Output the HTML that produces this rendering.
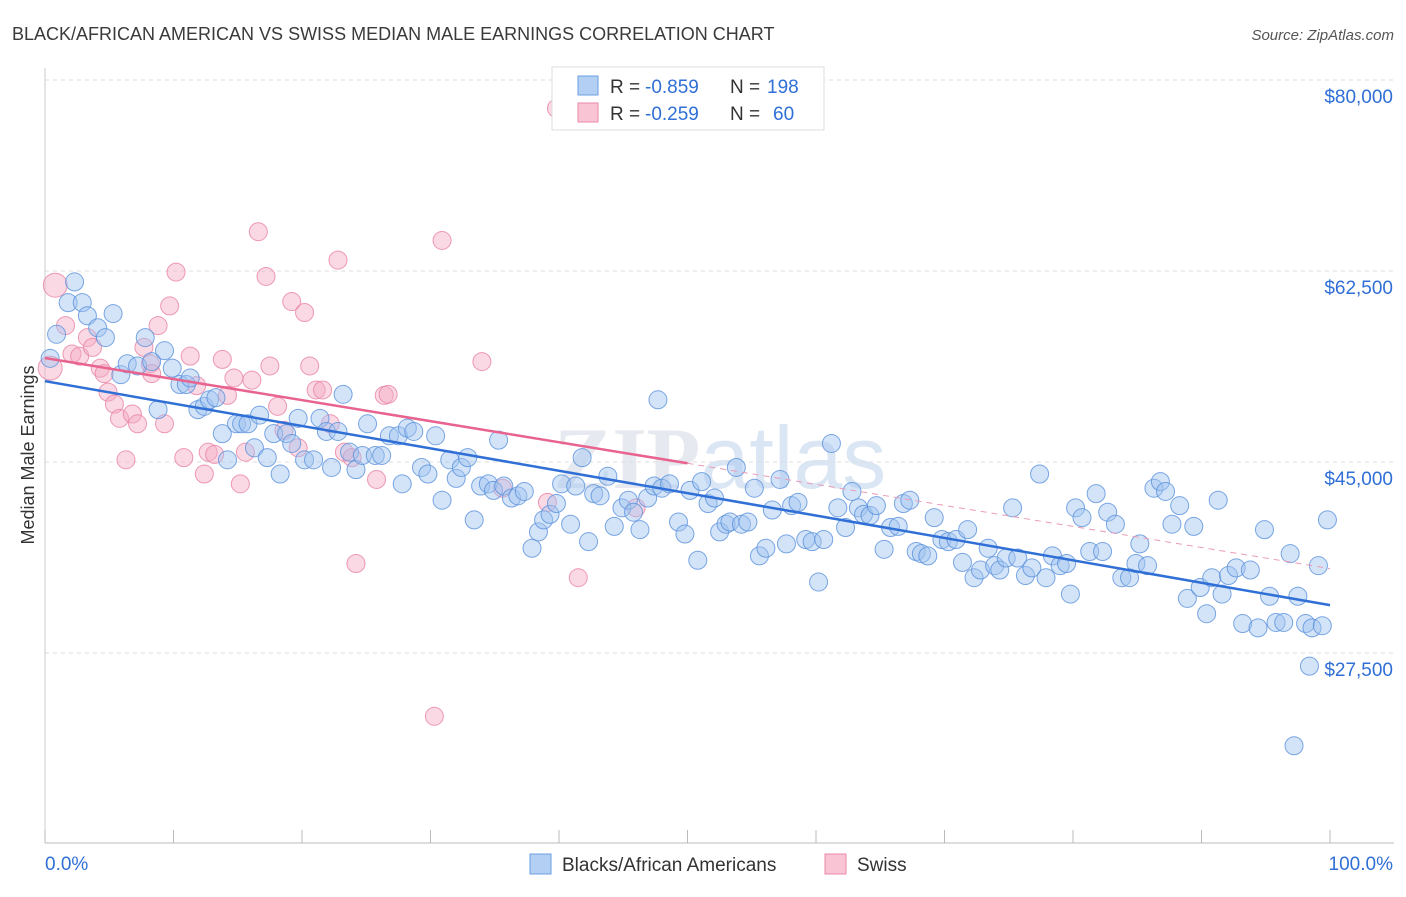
<!DOCTYPE html>
<html><head><meta charset="utf-8"><style>
body{margin:0;background:#fff;font-family:"Liberation Sans",sans-serif}
</style></head><body>
<svg id="chart" width="1406" height="892" viewBox="0 0 1406 892" xmlns="http://www.w3.org/2000/svg" font-family="Liberation Sans, sans-serif">
<text x="12" y="40" font-size="18" fill="#3a3a3a">BLACK/AFRICAN AMERICAN VS SWISS MEDIAN MALE EARNINGS CORRELATION CHART</text>
<text x="1394" y="40" font-size="15" fill="#555" font-style="italic" text-anchor="end">Source: ZipAtlas.com</text>
<text x="720" y="488" font-size="88" fill="#e6e9ef" text-anchor="middle" font-weight="bold" font-family="Liberation Serif, serif">ZIP<tspan fill="#dbe6f5" font-family="Liberation Sans, sans-serif" font-weight="normal">atlas</tspan></text>
<g id="grid"></g>
<g id="axes"></g>
<g id="pts"></g>
<g id="trend"></g>
<text transform="translate(34,455) rotate(-90)" font-size="18" fill="#333" text-anchor="middle">Median Male Earnings</text>
<g>
<rect x="552" y="67" width="272" height="63" fill="#fff" stroke="#ddd"/>
<rect x="578" y="76" width="20" height="19" fill="#b3cff3" stroke="#6a9fe0"/>
<rect x="578" y="103" width="20" height="19" fill="#f9c4d4" stroke="#eb8aaa"/>
<text x="610" y="93" font-size="19" fill="#333">R =</text>
<text x="645" y="93" font-size="19" fill="#2f6fd6">-0.859</text>
<text x="730" y="93" font-size="19" fill="#333">N =</text>
<text x="767" y="93" font-size="19" fill="#2f6fd6">198</text>
<text x="610" y="120" font-size="19" fill="#333">R =</text>
<text x="645" y="120" font-size="19" fill="#2f6fd6">-0.259</text>
<text x="730" y="120" font-size="19" fill="#333">N =</text>
<text x="773" y="120" font-size="19" fill="#2f6fd6">60</text>
</g>
<g>
<rect x="530" y="854" width="21" height="20" fill="#b3cff3" stroke="#6a9fe0"/>
<text x="562" y="871" font-size="19" fill="#333">Blacks/African Americans</text>
<rect x="825" y="854" width="21" height="20" fill="#f9c4d4" stroke="#eb8aaa"/>
<text x="857" y="871" font-size="19" fill="#333">Swiss</text>
</g>
</svg>
<script>
const yTicks=[80000,62500,45000,27500];
const yTickLabels=["$80,000","$62,500","$45,000","$27,500"];
const xTickLabels=["0.0%","100.0%"];
const blueX=[0.4,0.9,2.3,1.8,2.9,3.3,4.1,4.7,5.3,5.9,6.4,7.2,7.8,8.3,8.8,9.3,9.9,10.5,11.0,11.3,11.9,12.4,12.8,13.3,13.8,14.2,14.9,15.3,15.8,16.3,16.7,17.3,17.8,18.3,18.8,19.2,19.7,20.2,20.9,21.4,21.9,22.3,22.8,23.2,23.7,24.2,24.7,25.1,25.7,26.2,26.8,27.5,27.8,28.2,28.7,29.3,29.8,30.4,30.9,31.5,32.0,32.4,32.9,33.4,33.9,34.5,34.9,35.3,35.7,36.3,36.8,37.3,37.9,38.4,38.8,39.3,39.8,40.2,40.9,41.3,41.8,42.3,42.7,43.2,43.8,44.3,44.9,45.4,45.8,46.3,46.9,47.4,47.7,48.0,48.6,49.3,49.8,50.2,50.8,51.1,51.6,52.1,52.5,53.0,53.3,53.8,54.2,54.7,55.2,55.6,56.1,56.6,57.2,57.7,58.1,58.6,59.2,59.7,60.2,60.6,61.2,61.7,62.3,62.8,63.3,63.7,64.2,64.7,65.3,65.8,66.4,66.8,67.3,67.8,68.2,68.7,69.2,69.8,70.3,70.9,71.4,71.8,72.3,72.8,73.4,73.9,74.3,74.8,75.3,75.7,76.3,76.8,77.4,77.9,78.4,79.0,79.5,79.8,80.2,80.7,81.3,81.8,82.3,82.7,83.3,83.8,84.4,84.9,85.2,85.8,86.3,86.8,87.2,87.7,88.3,88.9,89.4,89.9,90.4,90.8,91.3,91.6,92.1,92.7,93.2,93.8,94.4,94.9,95.3,95.8,96.4,96.9,97.5,98.1,98.6,98.4,99.1,99.4,99.8,97.2];
const blueY=[54.5,56.7,61.5,59.6,59.6,58.4,57.3,56.4,58.6,53.0,54.0,53.8,56.4,54.2,49.8,55.2,53.6,52.1,52.1,52.7,49.8,50.1,50.7,50.9,47.6,45.2,48.5,48.5,48.5,46.3,49.3,45.4,47.6,43.9,47.6,46.7,49.0,45.2,45.2,49.0,47.8,44.5,47.8,51.2,45.9,44.3,45.6,48.5,45.6,45.6,47.4,47.4,43.0,48.1,47.8,44.5,43.9,47.4,41.5,45.2,43.5,44.5,45.4,39.7,42.8,43.0,42.4,47.0,42.8,41.7,41.9,42.3,37.1,38.6,39.7,40.2,41.2,43.0,39.3,42.8,45.4,37.7,42.1,41.9,43.7,39.1,40.8,41.5,40.4,38.8,41.7,42.8,50.7,42.6,43.0,39.5,38.4,42.4,36.0,43.2,41.2,41.7,38.6,39.3,39.5,44.5,39.3,39.5,42.6,36.4,37.1,40.6,43.4,37.5,41.0,41.3,37.9,37.7,34.0,37.9,46.7,40.8,39.0,42.3,40.8,40.2,40.1,41.0,37.0,39.0,39.1,41.2,41.5,36.8,36.6,36.4,39.9,37.9,37.7,37.9,35.8,38.8,34.4,35.1,37.1,35.5,35.1,36.2,40.8,36.2,34.6,35.3,43.9,34.4,36.4,35.5,35.7,32.9,40.8,39.9,36.8,42.1,36.8,40.4,39.3,34.4,34.4,35.7,37.5,35.5,42.6,43.2,42.3,39.3,41.0,32.5,39.1,33.5,31.1,34.4,41.5,32.9,34.6,35.3,30.2,35.1,29.8,38.8,32.7,30.3,30.3,36.6,32.7,30.2,29.8,26.3,35.5,30.0,39.7,19.0];
const pinkX=[0.8,0.4,1.6,2.1,2.7,3.3,3.7,4.3,4.6,4.9,5.4,5.8,6.3,6.8,7.2,7.7,8.2,8.3,8.8,9.3,9.7,10.2,10.8,11.3,11.8,12.4,12.7,13.2,13.8,14.2,14.7,15.2,15.6,16.1,16.6,17.2,17.5,18.1,18.6,19.2,19.7,20.2,20.6,21.1,21.6,22.2,22.8,23.3,23.9,24.2,25.8,26.4,26.7,30.3,30.9,34.0,35.6,39.1,39.8,41.5,46.0];
const pinkY=[61.2,53.6,57.5,54.9,54.7,56.4,55.5,53.6,53.1,51.4,50.3,49.0,45.2,49.4,48.5,55.5,54.0,53.1,57.5,48.5,59.3,62.4,45.4,54.7,52.0,43.9,45.9,45.7,54.4,51.1,52.7,43.0,45.9,52.5,66.1,62.0,53.8,50.1,47.9,59.7,46.3,58.7,53.8,51.6,51.6,48.5,63.5,45.9,45.4,35.7,43.4,51.1,51.2,21.7,65.3,54.2,42.6,41.3,77.4,34.4,40.8];
const NS="http://www.w3.org/2000/svg";
const X0=45,X1=1330,YT=80,YB=653;
function sx(v){return X0+(X1-X0)*v/100;}
function sy(k){return YT+(80-k)*(YB-YT)/52.5;}
function mk(tag,attrs,parent){const e=document.createElementNS(NS,tag);for(const k in attrs)e.setAttribute(k,attrs[k]);parent.appendChild(e);return e;}
const grid=document.getElementById('grid'),axes=document.getElementById('axes');
yTicks.forEach((t,i)=>{
  const y=sy(t/1000);
  const l=mk('line',{x1:X0,x2:1394,y1:y,y2:y,stroke:'#ddd','stroke-dasharray':'4,4'},grid);
  
  
  const tx=mk('text',{x:1393,y:y+23,'font-size':19,fill:'#2f6fd6','text-anchor':'end'},axes);
  tx.textContent=yTickLabels[i];
  
  
});
const xa=mk('line',{x1:X0,x2:1394,y1:843,y2:843,stroke:'#bbb'},axes);


const ya=mk('line',{x1:X0,x2:X0,y1:68,y2:843,stroke:'#ccc'},axes);


for(let i=0;i<=10;i++){const x=sx(i*10);const t=mk('line',{x1:x,x2:x,y1:830,y2:843,stroke:'#bbb'},axes);

}
[[0,'start',45],[100,'end',1393]].forEach((d,i)=>{const t=mk('text',{x:d[2],y:870,'font-size':19,fill:'#2f6fd6','text-anchor':d[1]},axes);t.textContent=xTickLabels[i];

});
const pts=document.getElementById('pts');
pinkX.forEach((x,i)=>{const c=mk('circle',{cx:sx(x),cy:sy(pinkY[i]),r:i<2?12:9,fill:'rgba(244,170,195,0.45)',stroke:'rgba(232,130,165,0.8)','stroke-width':1},pts);

});
blueX.forEach((x,i)=>{const c=mk('circle',{cx:sx(x),cy:sy(blueY[i]),r:9,fill:'rgba(160,195,240,0.45)',stroke:'rgba(90,145,220,0.8)','stroke-width':1},pts);

});
function fit(xs,ys){const n=xs.length;let mx=0,my=0;for(let i=0;i<n;i++){mx+=xs[i];my+=ys[i];}mx/=n;my/=n;let a=0,b=0;for(let i=0;i<n;i++){a+=(xs[i]-mx)*(ys[i]-my);b+=(xs[i]-mx)**2;}const s=a/b;return [s,my-s*mx];}
const tr=document.getElementById('trend');
const fb=fit(blueX,blueY);
const lb=mk('line',{x1:sx(0),y1:sy(fb[1]),x2:sx(100),y2:sy(fb[1]+fb[0]*100),stroke:'#2f6fd6','stroke-width':2.5},tr);


const fp=fit(pinkX,pinkY);
const lp=mk('line',{x1:sx(0),y1:sy(fp[1]),x2:sx(50),y2:sy(fp[1]+fp[0]*50),stroke:'#e8638e','stroke-width':2.5},tr);


const lpd=mk('line',{x1:sx(50),y1:sy(fp[1]+fp[0]*50),x2:sx(100),y2:sy(fp[1]+fp[0]*100),stroke:'#eb9ab5','stroke-width':1,'stroke-dasharray':'6,5'},tr);


</script>
</body></html>
